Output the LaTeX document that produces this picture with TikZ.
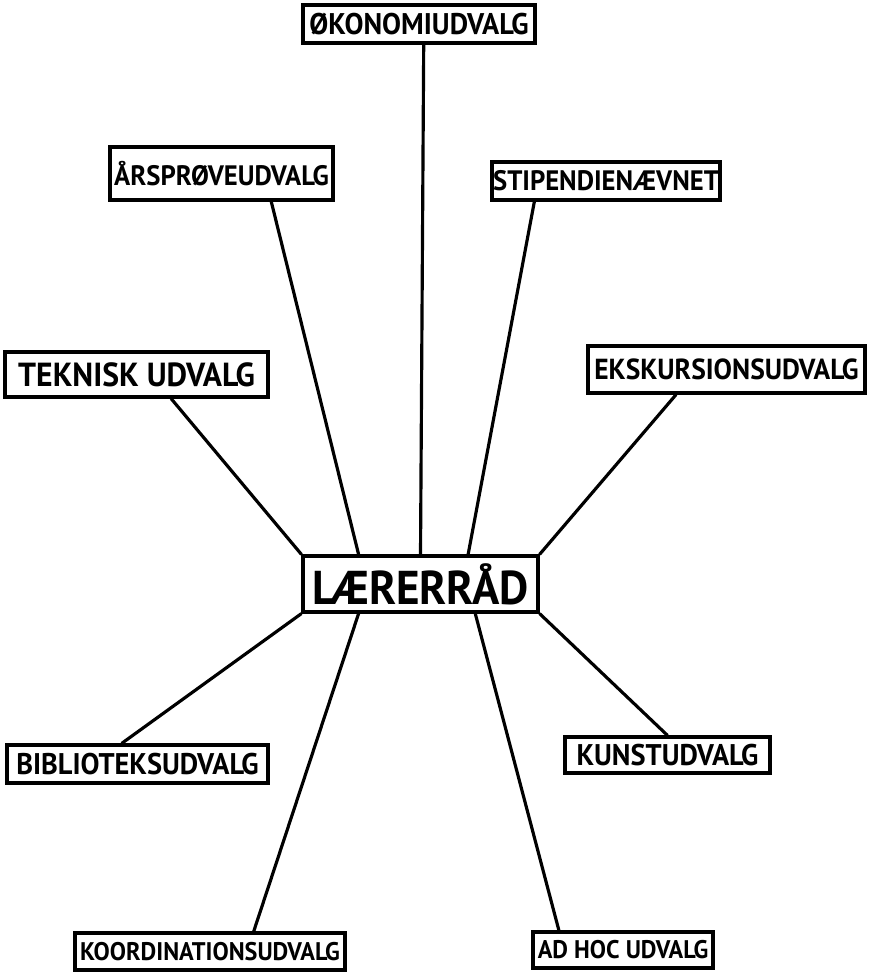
\documentclass[tikz,border=0pt]{standalone}
\usepackage{fontspec}
\setmainfont[FakeStretch=0.95]{PT Sans}
\usetikzlibrary{calc}
\begin{document}
\begin{tikzpicture}[x=0.02cm,y=-0.02cm,line width=1.8pt,
  udvalg/.style={draw,inner sep=0pt,minimum height=0.76cm,font=\fontsize{17}{19}\selectfont\bfseries},
  raad/.style={draw,inner sep=0pt,font=\fontsize{27}{30}\selectfont\bfseries}]
\useasboundingbox (0,0) rectangle (877,972);

\node[raad,minimum width=4.7cm,minimum height=1.12cm] (laererraad) at (420.5,584) {LÆRERRÅD};

\node[udvalg,minimum width=4.64cm] (oekonomi) at (419,24) {ØKONOMIUDVALG};
\node[udvalg,minimum width=4.46cm,minimum height=1.06cm,font=\fontsize{16}{18}\selectfont\bfseries] (aarsproeve) at (221.5,173.5) {ÅRSPRØVEUDVALG};
\node[udvalg,minimum width=4.56cm,font=\fontsize{16}{18}\selectfont\bfseries] (stipendie) at (606,181) {STIPENDIENÆVNET};
\node[udvalg,minimum width=5.26cm,minimum height=0.9cm,font=\fontsize{19}{21}\selectfont\bfseries] (teknisk) at (136.5,374.5) {TEKNISK UDVALG};
\node[udvalg,minimum width=5.54cm,minimum height=0.94cm,font=\fontsize{16.5}{18}\selectfont\bfseries] (ekskursion) at (726.5,369.5) {EKSKURSIONSUDVALG};
\node[udvalg,minimum width=5.22cm] (bibliotek) at (137.5,764) {BIBLIOTEKSUDVALG};
\node[udvalg,minimum width=4.1cm,minimum height=0.72cm] (kunst) at (667.5,755) {KUNSTUDVALG};
\node[udvalg,minimum width=5.4cm,minimum height=0.74cm,font=\fontsize{14.5}{16}\selectfont\bfseries] (koordination) at (210,951.5) {KOORDINATIONSUDVALG};
\node[udvalg,minimum width=3.6cm,minimum height=0.72cm,font=\fontsize{14.5}{16}\selectfont\bfseries] (adhoc) at (623,950) {AD HOC UDVALG};

% udvalg over raadet
\draw ($(oekonomi.south west)!0.52!(oekonomi.south east)$) -- (laererraad.north);
\draw ($(aarsproeve.south west)!0.72!(aarsproeve.south east)$) -- ($(laererraad.north west)!0.24!(laererraad.north east)$);
\draw ($(stipendie.south west)!0.19!(stipendie.south east)$) -- ($(laererraad.north west)!0.70!(laererraad.north east)$);
\draw ($(teknisk.south west)!0.63!(teknisk.south east)$) -- (laererraad.north west);
\draw ($(ekskursion.south west)!0.32!(ekskursion.south east)$) -- (laererraad.north east);

% udvalg under raadet
\draw ($(bibliotek.north west)!0.44!(bibliotek.north east)$) -- (laererraad.south west);
\draw (kunst.north) -- (laererraad.south east);
\draw ($(koordination.north west)!0.66!(koordination.north east)$) -- ($(laererraad.south west)!0.24!(laererraad.south east)$);
\draw ($(adhoc.north west)!0.15!(adhoc.north east)$) -- ($(laererraad.south west)!0.73!(laererraad.south east)$);
\end{tikzpicture}
\end{document}
